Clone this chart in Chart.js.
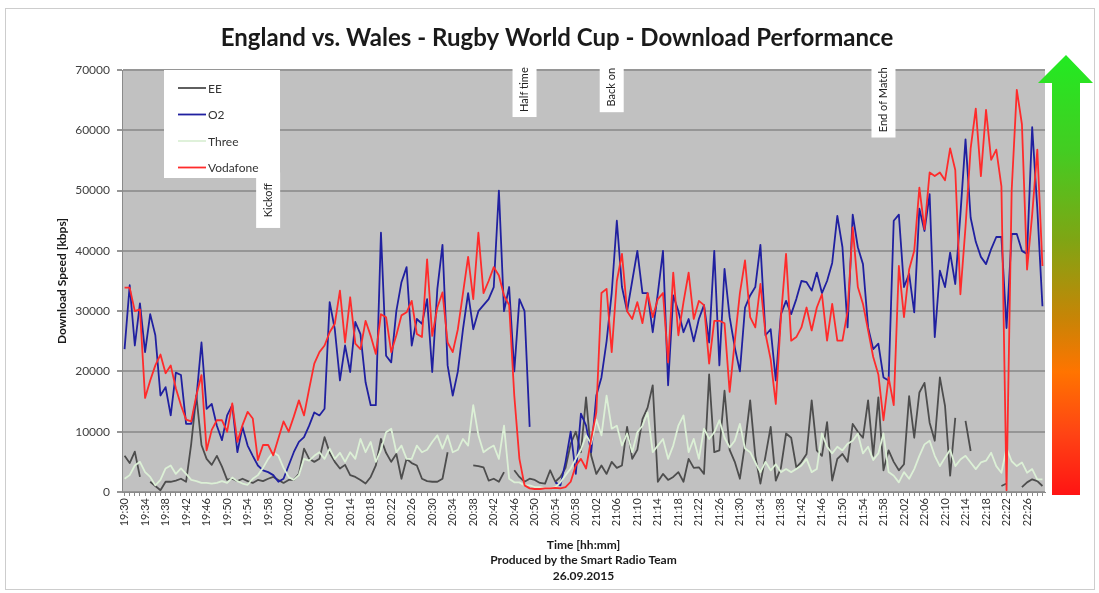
<!DOCTYPE html>
<html>
<head>
<meta charset="utf-8">
<title>England vs. Wales - Download Performance</title>
<script src="https://cdn.jsdelivr.net/npm/chart.js@4.4.1/dist/chart.umd.min.js"></script>
<style>
  html, body { margin: 0; padding: 0; background: #fff; overflow: hidden; }
  canvas { display: block; }
</style>
</head>
<body>
<canvas id="rwcChart" width="1099" height="593"></canvas>
<script>
// one sample per minute, 19:30 .. 22:29
const firstMinute = 19 * 60 + 30;
const sampleCount = 180;
const timeLabels = [];
for (let i = 0; i < sampleCount; i++) {
  const m = firstMinute + i;
  timeLabels.push(Math.floor(m / 60) + ':' + String(m % 60).padStart(2, '0'));
}

const seriesNames = ['EE', 'O2', 'Three', 'Vodafone'];

const eeSpeed = [
  6000, 4800, 6700, 2500, null, 1700, 1000, 300, 1700, 1700,
  1900, 2200, 1700, 8000, 16000, 7800, 5500, 4500, 6000, 4200,
  2000, 2200, 1800, 2200, 1800, 1500, 2000, 1800, 2200, 2500,
  2000, 1500, 2000, 2000, 3000, 7200, 5500, 5000, 5500, 9100,
  6500, 5000, 3900, 4500, 2800, 2500, 2000, 1400, 2500, 4400,
  8800, 6500, 5000, 6300, 2200, 5500, 4800, 4400, 2200, 1800,
  1700, 1700, 2200, 6600, null, null, null, null, 4400, 4300,
  4100, 1900, 2200, 1700, 3300, null, 3600, 2500, 1700, 2200,
  2000, 1500, 1400, 3600, 1700, 2500, 4000, 8000, 10000, 6600,
  15700, 6000, 3000, 4400, 3000, 5000, 4000, 4400, 10800, 5500,
  7000, 12100, 14000, 17700, 1700, 3000, 2000, 2500, 3300, 1700,
  5500, 4000, 4100, 3000, 19500, 6600, 6900, 16800, 7000, 5000,
  2200, 8000, 15200, 6000, 1400, 6000, 10800, 1900, 4000, 9700,
  9000, 4100, 5000, 6300, 15200, 6900, 6000, 11600, 1900, 5500,
  6300, 5000, 11300, 10000, 9000, 15200, 6000, 15700, 3600, 6900,
  5000, 3600, 4600, 15900, 9000, 16500, 18100, 11500, 8500, 19000,
  14300, 2700, 12300, null, 11800, 6800, null, null, null, null,
  null, 1000, 1400, null, null, 800, 1600, 2100, 1800, 1000
];

const o2Speed = [
  23700, 34300, 24300, 31300, 23200, 29500, 26000, 16000, 17400, 12700,
  19800, 19400, 11300, 11300, 15500, 24800, 13800, 14600, 11000, 8600,
  12700, 14400, 6600, 10800, 7700, 6000, 4400, 3600, 3300, 2800,
  1700, 2200, 4400, 6600, 8300, 9100, 11000, 13200, 12700, 13800,
  31500, 27000, 18500, 24300, 19900, 28200, 26200, 18200, 14400, 14400,
  43000, 22600, 21500, 30000, 34800, 37300, 24300, 28700, 27900, 32000,
  19900, 33700, 41000, 21000, 16000, 20000, 27000, 33000, 27000, 30000,
  31000, 32000, 34000, 50000, 30000, 34000, 20000, 32000, 30000, 10800,
  null, null, null, null, 1600, 1100, 5000, 10000, 3000, 13000,
  11000, 6600, 16000, 19000, 25000, 33000, 45000, 34000, 30000, 35000,
  40000, 33000, 33000, 26500, 33000, 40000, 17700, 32600, 30000, 26500,
  28700, 25000, 28700, 31000, 24800, 40000, 21000, 37000, 29000, 24000,
  20000, 30600, 32600, 34000, 41000, 26000, 27000, 18500, 29500, 31700,
  29500, 32000, 35000, 34800, 33400, 36400, 33000, 35000, 38000, 45800,
  40600, 27300, 46000, 40600, 37800, 27300, 23700, 24600, 19000, 18500,
  45000, 46000, 34000, 36200, 29800, 47000, 43300, 49400, 25700, 36700,
  34000, 39700, 34500, 46000, 58500, 45500, 41500, 39000, 37800, 40300,
  42300, 42300, 27200, 42800, 42800, 40000, 39500, 60500, 47000, 30800
];

const threeSpeed = [
  2200, 2800, 4400, 5000, 3300, 2500, 1100, 2000, 3900, 4400,
  3000, 3900, 3000, 2000, 1800, 1500, 1500, 1400, 1500, 1800,
  1500, 2400, 1800, 1400, 1200, 2200, 2800, 4000, 5500, 6600,
  6000, 4000, 2500, 2000, 2800, 5500, 5200, 6000, 6600, 5500,
  7200, 5500, 6500, 5000, 6600, 5500, 8800, 6600, 8300, 5000,
  7000, 9900, 10500, 6600, 7700, 5500, 5500, 7700, 6600, 7000,
  8300, 9400, 7200, 9400, 6600, 7000, 8800, 7700, 14400, 9400,
  6600, 7200, 7700, 5500, 11000, 2200, 1600, 1600, 1100, 1100,
  800, 800, 600, 600, 800, 1600, 2800, 3900, 5500, 7000,
  9400, 8000, 12000, 9400, 16000, 10500, 11000, 7700, 9700, 6600,
  9900, 11000, 13200, 6600, 7700, 8800, 5500, 7700, 11000, 12700,
  6600, 8800, 5500, 10500, 8800, 9900, 11900, 9000, 7400, 8500,
  11300, 7200, 6600, 4900, 3300, 5000, 3600, 4600, 3300, 3800,
  3300, 3800, 4400, 5500, 3300, 3800, 9700, 7500, 6400, 7500,
  6900, 8000, 8500, 9700, 6400, 7500, 5300, 6400, 9700, 3300,
  2700, 1600, 3300, 2200, 3800, 6000, 7900, 8500, 6000, 4300,
  5700, 7000, 4300, 5400, 6000, 4900, 3800, 4900, 5200, 6500,
  4300, 3200, 7300, 5100, 4300, 4900, 3200, 3800, 2100, 2100
];

const vodafoneSpeed = [
  33900, 33900, 30000, 30300, 15600, 18500, 21000, 22800, 19700, 21000,
  17200, 14400, 12000, 11700, 16000, 19400, 6900, 10300, 11900, 11900,
  10000, 14700, 8300, 11100, 13300, 12200, 5300, 7800, 7800, 6100,
  8900, 11700, 10000, 12500, 15200, 12700, 17100, 21300, 23200, 24300,
  26500, 27900, 33400, 24800, 32300, 24600, 23700, 28400, 25900, 22900,
  29500, 29000, 23200, 26000, 29300, 29800, 31700, 26200, 25700, 38600,
  25900, 30600, 33100, 24800, 23200, 27000, 33000, 39000, 32000, 43000,
  33000, 35000, 37300, 35900, 32600, 31000, 16000, 5500, 1100, 600,
  500, 500, 600, 600, 700, 600, 800, 1700, 4400, 5500,
  3900, 8800, 13200, 33000, 33700, 23200, 35000, 39500, 30000, 28700,
  31500, 28000, 33000, 29000, 32000, 33000, 21500, 36400, 26000, 31500,
  36400, 28700, 31700, 31000, 21300, 28400, 28400, 28000, 16600, 25000,
  33000, 38400, 29000, 27300, 34500, 26200, 22000, 14600, 29000, 39500,
  25100, 25700, 27300, 30600, 26800, 30600, 32800, 25100, 31200, 25100,
  25100, 30000, 43900, 34000, 31200, 26800, 22400, 19500, 11900, 19000,
  14400, 37500, 29000, 36900, 40000, 50500, 43600, 53000, 52400, 53000,
  51700, 57000, 53400, 32800, 44000, 57000, 63600, 52400, 63400, 55100,
  56800, 50700, 300, 50000, 66700, 61000, 36900, 46000, 56800, 37500
];

const yTickValues = [0, 10000, 20000, 30000, 40000, 50000, 60000, 70000];

// match events: label, minute, box top / bottom in kbps
const eventNames = ['Kickoff', 'Half time', 'Back on', 'End of Match'];
const eventTimes = ['19:58', '20:48', '21:05', '21:58'];
const eventTops = [53000, 71300, 71300, 71300];
const eventBottoms = [43800, 62200, 63000, 58800];

const seriesColors = ['#4d4d4d', '#2020a0', '#dcf0d6', '#ff2b2b'];

const FONT = 'Lato, "Open Sans", sans-serif';

const decorPlugin = {
  id: 'decor',
  beforeDraw(chart) {
    const { ctx, chartArea: a } = chart;
    ctx.save();
    ctx.fillStyle = '#ffffff';
    ctx.fillRect(0, 0, chart.width, chart.height);
    // outer frame
    ctx.strokeStyle = '#cdcdcd';
    ctx.lineWidth = 1;
    ctx.strokeRect(5.5, 8.5, 1089, 581);
    // plot background
    ctx.fillStyle = '#c1c1c1';
    ctx.fillRect(a.left, a.top, a.right - a.left, a.bottom - a.top);
    ctx.restore();
  },
  afterDraw(chart) {
    const { ctx, chartArea: a, scales } = chart;
    const xs = scales.x, ys = scales.y;
    ctx.save();

    // title
    ctx.fillStyle = '#1a1a1a';
    ctx.font = 'bold 24px ' + FONT;
    ctx.textAlign = 'center';
    ctx.textBaseline = 'middle';
    ctx.fillText('England vs. Wales - Rugby World Cup - Download Performance', 557, 38);

    // legend box inside the plot
    const lx = a.left + 42, ly = a.top, lw = 116, lh = 108;
    ctx.fillStyle = '#ffffff';
    ctx.fillRect(lx, ly, lw, lh);
    ctx.font = '12px ' + FONT;
    ctx.textAlign = 'left';
    seriesNames.forEach((name, k) => {
      const yy = ly + 18 + k * 26.5;
      ctx.strokeStyle = seriesColors[k];
      ctx.lineWidth = 1.8;
      ctx.beginPath();
      ctx.moveTo(lx + 14, yy);
      ctx.lineTo(lx + 42, yy);
      ctx.stroke();
      ctx.fillStyle = '#333333';
      ctx.fillText(name, lx + 44, yy + 1);
    });

    // event markers
    ctx.font = '11px ' + FONT;
    eventNames.forEach((name, k) => {
      const cx = xs.getPixelForValue(timeLabels.indexOf(eventTimes[k]));
      const top = ys.getPixelForValue(eventTops[k]);
      const bot = ys.getPixelForValue(eventBottoms[k]);
      ctx.fillStyle = '#ffffff';
      ctx.fillRect(cx - 12, top, 24, bot - top);
      ctx.save();
      ctx.translate(cx, (top + bot) / 2);
      ctx.rotate(-Math.PI / 2);
      ctx.fillStyle = '#222222';
      ctx.textAlign = 'center';
      ctx.textBaseline = 'middle';
      ctx.fillText(name, 0, 0);
      ctx.restore();
    });

    // quality arrow on the right
    const ax = a.right + 21, tipY = a.top - 15, headY = a.top + 13, baseY = a.bottom + 3;
    const grad = ctx.createLinearGradient(0, tipY, 0, baseY);
    grad.addColorStop(0, '#22ea22');
    grad.addColorStop(0.22, '#44cc22');
    grad.addColorStop(0.42, '#7fa514');
    grad.addColorStop(0.6, '#c88406');
    grad.addColorStop(0.72, '#ff7400');
    grad.addColorStop(0.86, '#ff4414');
    grad.addColorStop(1, '#ff1414');
    ctx.fillStyle = grad;
    ctx.beginPath();
    ctx.moveTo(ax, tipY);
    ctx.lineTo(ax + 27, headY);
    ctx.lineTo(ax + 14, headY);
    ctx.lineTo(ax + 14, baseY);
    ctx.lineTo(ax - 14, baseY);
    ctx.lineTo(ax - 14, headY);
    ctx.lineTo(ax - 28, headY);
    ctx.closePath();
    ctx.fill();

    ctx.restore();
  }
};

const seriesData = [eeSpeed, o2Speed, threeSpeed, vodafoneSpeed];
const drawOrder = [4, 3, 2, 1];

new Chart(document.getElementById('rwcChart').getContext('2d'), {
  type: 'line',
  data: {
    labels: timeLabels,
    datasets: seriesNames.map((name, k) => ({
      label: name,
      data: seriesData[k],
      borderColor: seriesColors[k],
      backgroundColor: seriesColors[k],
      borderWidth: 1.8,
      borderJoinStyle: 'round',
      pointRadius: 0,
      tension: 0,
      fill: false,
      spanGaps: false,
      order: drawOrder[k]
    }))
  },
  options: {
    responsive: false,
    animation: false,
    devicePixelRatio: 1,
    layout: { padding: { top: 70, right: 54, bottom: 0, left: 0 } },
    plugins: {
      legend: { display: false },
      title: { display: false },
      tooltip: { enabled: false }
    },
    scales: {
      x: {
        type: 'category',
        offset: true,
        grid: { drawOnChartArea: false, drawTicks: true, tickLength: 4, color: '#8a8a8a' },
        border: { color: '#8a8a8a' },
        ticks: {
          autoSkip: false,
          maxRotation: 90,
          minRotation: 90,
          padding: 2,
          color: '#333333',
          font: { family: FONT, size: 11 },
          callback(v, i) { return i % 4 === 0 ? this.getLabelForValue(v) : ''; }
        },
        title: {
          display: true,
          text: ['Time [hh:mm]', 'Produced by the Smart Radio Team', '26.09.2015'],
          color: '#1a1a1a',
          font: { family: FONT, size: 12, weight: 'bold', lineHeight: 1.3 },
          padding: { top: 0, bottom: 9 }
        },
        afterFit(s) { s.height = 101; }
      },
      y: {
        min: 0,
        max: 70000,
        afterBuildTicks(s) { s.ticks = yTickValues.map(v => ({ value: v })); },
        grid: { color: '#969696', lineWidth: 2, tickLength: 5 },
        border: { color: '#8a8a8a' },
        ticks: {
          padding: 7,
          color: '#404040',
          font: { family: FONT, size: 12 },
          callback: v => String(v)
        },
        title: {
          display: true,
          text: 'Download Speed [kbps]',
          color: '#1a1a1a',
          font: { family: FONT, size: 12, weight: 'bold' },
          padding: { top: 55, bottom: 0 }
        },
        afterFit(s) { s.width = 122; }
      }
    }
  },
  plugins: [decorPlugin]
});
</script>
</body>
</html>
